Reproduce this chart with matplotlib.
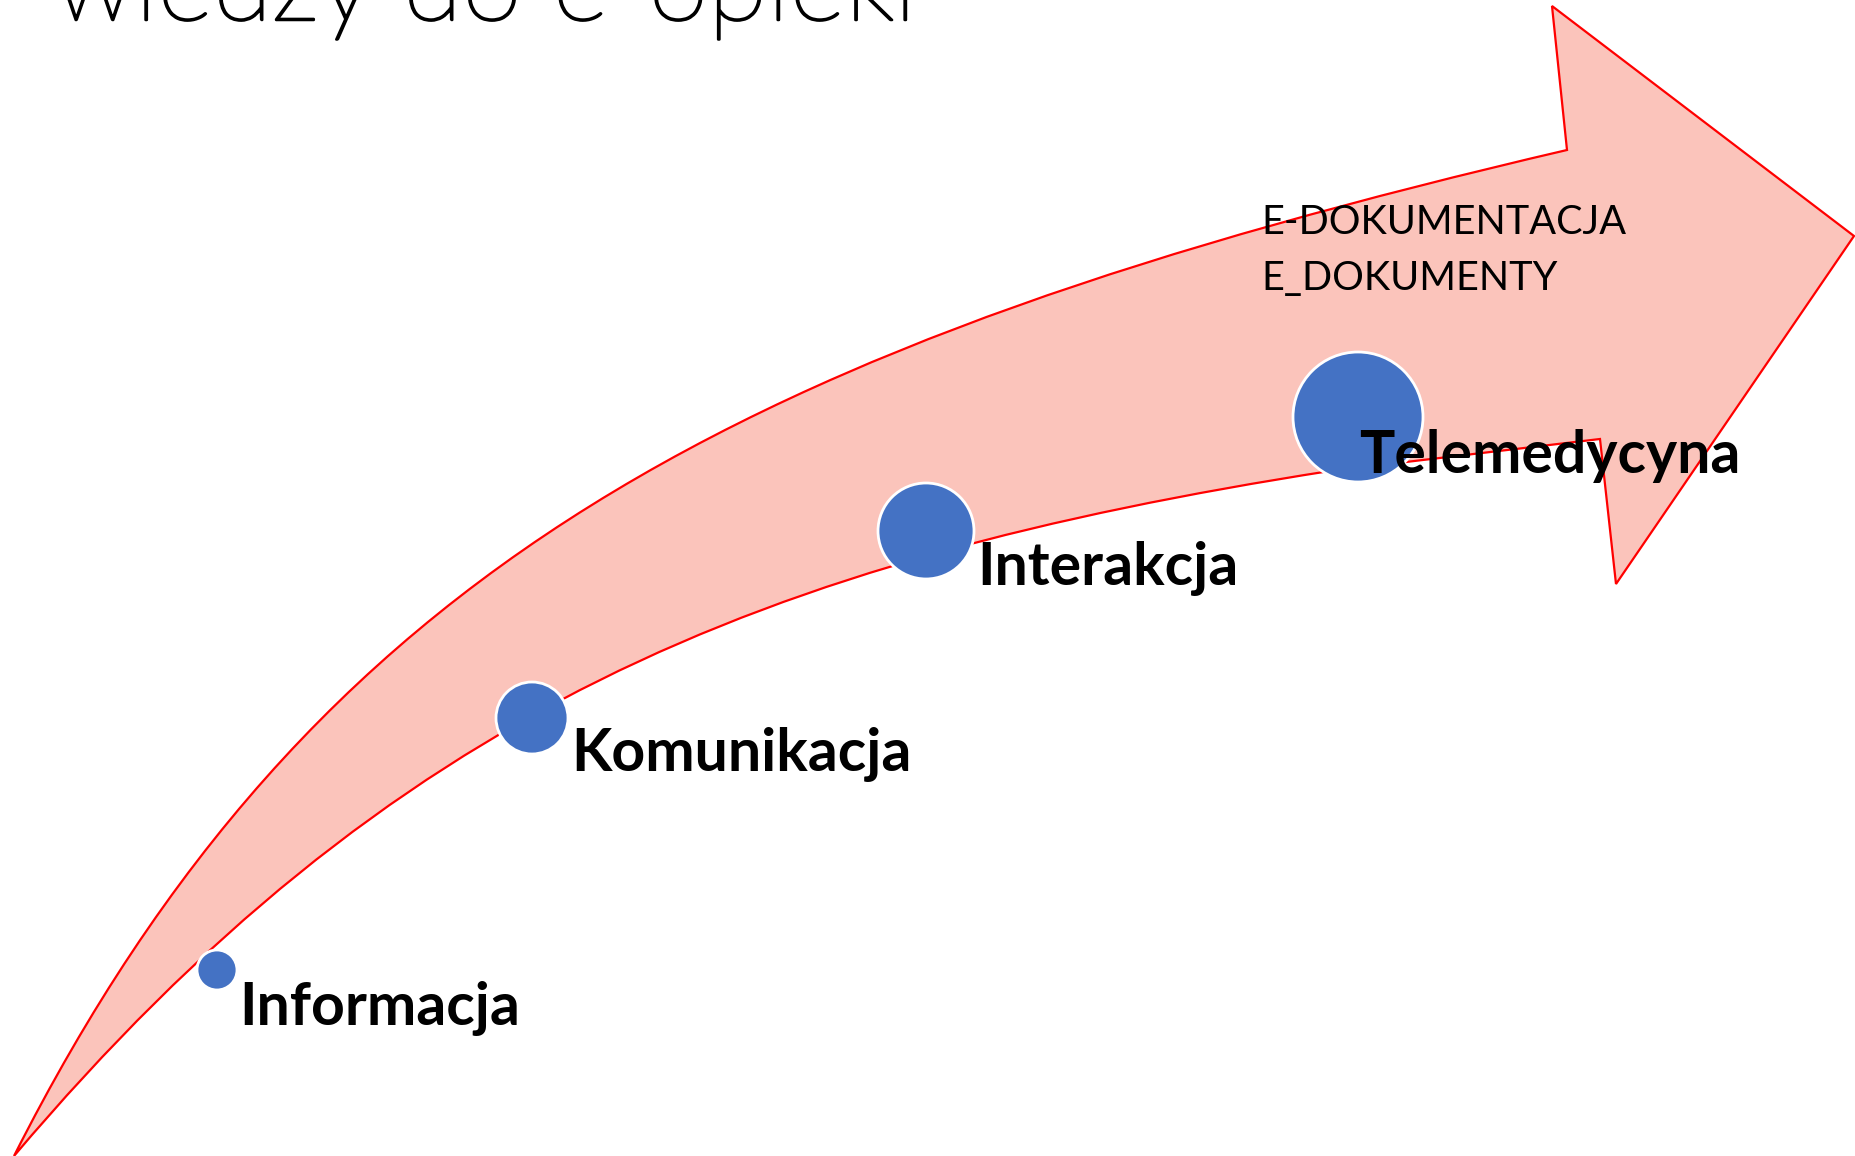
import matplotlib
matplotlib.use("Agg")
import matplotlib.pyplot as plt
import matplotlib.patheffects as pe
from matplotlib.path import Path
from matplotlib.patches import PathPatch, Circle

# stages along the arrow
stages = ["Informacja", "Komunikacja", "Interakcja", "Telemedycyna"]
stage_x = [217, 532, 926, 1358]
stage_y = [970, 718, 531, 417]
stage_r = [20, 36, 48, 65]
label_x = [239, 571, 977, 1359]
label_y = [1025, 771, 585, 473]

notes = ["E-DOKUMENTACJA", "E_DOKUMENTY"]
title = "wiedzy do e-opieki"

W, H = 1855, 1156
fig = plt.figure(figsize=(W / 100, H / 100), dpi=100)
ax = fig.add_axes([0, 0, 1, 1])
ax.set_xlim(0, W)
ax.set_ylim(H, 0)
ax.axis("off")

# curved arrow outline (pixel coords, y down)
verts = [
    (14, 1156),
    (311, 569), (739, 343), (1567, 150),   # outer curve
    (1552, 6),                               # upper barb
    (1854, 236),                             # tip
    (1616, 584),                             # lower barb
    (1600, 439),
    (1330, 471),
    (760, 560), (390, 712), (14, 1156),      # inner curve
    (14, 1156),
]
codes = [
    Path.MOVETO,
    Path.CURVE4, Path.CURVE4, Path.CURVE4,
    Path.LINETO,
    Path.LINETO,
    Path.LINETO,
    Path.LINETO,
    Path.LINETO,
    Path.CURVE4, Path.CURVE4, Path.CURVE4,
    Path.CLOSEPOLY,
]
arrow = PathPatch(Path(verts, codes), facecolor="#FBC4BB", edgecolor="#FF0000",
                  lw=1.6, joinstyle="miter", zorder=1)
ax.add_patch(arrow)

for i, name in enumerate(stages):
    ax.add_patch(Circle((stage_x[i], stage_y[i]), stage_r[i], facecolor="#4472C4",
                        edgecolor="white", lw=2, zorder=2))
    ax.text(label_x[i], label_y[i], name, fontsize=42.5, fontweight="bold",
            family="Lato", va="baseline", ha="left", color="black", zorder=3)

ax.text(1261, 234, notes[0], fontsize=28.5, family="Lato", va="baseline", zorder=3)
ax.text(1261, 290, notes[1], fontsize=28.5, family="Lato", va="baseline", zorder=3)

# title cut off at top of slide
thick = [pe.withStroke(linewidth=1.8, foreground="black")]
ax.text(54, 20, title, fontsize=78, family="Lato", fontweight="light",
        va="baseline", ha="left", color="black", path_effects=thick)
ax.text(6, 20, "–", fontsize=78, family="Lato", fontweight="light",
        va="baseline", ha="right", color="black", path_effects=thick)

fig.savefig("out.png", dpi=100)
